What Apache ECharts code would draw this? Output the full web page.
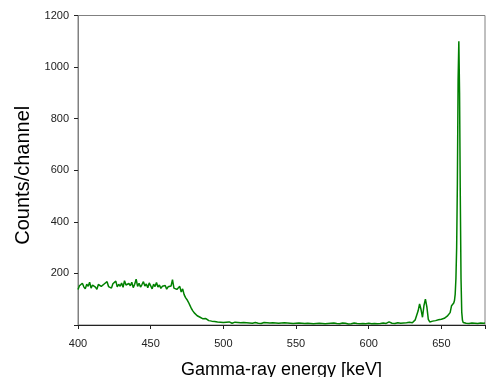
<!DOCTYPE html>
<html>
<head>
<meta charset="utf-8">
<script src="https://cdn.jsdelivr.net/npm/echarts@6/dist/echarts.min.js"></script>
<style>
html,body{margin:0;padding:0;background:#fff;}
#c{width:487px;height:377px;}
</style>
</head>
<body>
<div id="c"></div>
<script>
const energyKeV = [
  400,401,402,403,404,405,406,407,408,409,
  410,411,412,413,414,415,416,417,418,419,
  420,421,422,423,424,425,426,427,428,429,
  430,431,432,433,434,435,436,437,438,439,
  440,441,442,443,444,445,446,447,448,449,
  450,451,452,453,454,455,456,457,458,459,
  460,461,462,463,464,465,466,467,468,469,
  470,471,472,473,474,475,476,477,478,479,
  480,481,482,483,484,485,486,487,488,489,
  490,491,492,493,494,495,496,497,498,499,
  500,501,502,503,504,505,506,507,508,509,
  510,511,512,513,514,515,516,517,518,519,
  520,521,522,523,524,525,526,527,528,529,
  530,531,532,533,534,535,536,537,538,539,
  540,541,542,543,544,545,546,547,548,549,
  550,551,552,553,554,555,556,557,558,559,
  560,561,562,563,564,565,566,567,568,569,
  570,571,572,573,574,575,576,577,578,579,
  580,581,582,583,584,585,586,587,588,589,
  590,591,592,593,594,595,596,597,598,599,
  600,601,602,603,604,605,606,607,608,609,
  610,611,612,613,614,615,616,617,618,619,
  620,621,622,623,624,625,626,627,628,629,
  630,631,632,633,634,635,636,637,638,639,
  640,641,642,643,644,645,646,647,648,649,
  650,651,652,653,654,655,656,657,
  658,658.5,659,659.5,660,660.5,661,661.5,662,662.5,663,663.5,664,664.5,665,665.5,
  666,667,668,669,670,671,672,673,674,675,676,677,678,679,680
];
const countsPerChannel = [
  138,152,145,162,148,140,158,150,166,143,
  155,161,147,138,157,164,150,145,159,152,
  168,149,156,143,160,153,170,148,158,150,
  163,146,172,155,149,161,152,166,145,158,
  178,150,162,147,157,168,151,159,144,163,
  152,140,158,149,165,147,155,142,150,146,
  153,139,148,144,151,176,143,149,138,145,
  150,128,140,118,106,98,88,76,64,55,
  47,40,36,32,30,27,24,22,25,19,
  17,24,15,17,14,15,12,14,11,12,
  10,9,11,8,12,10,7,9,11,8,
  10,13,9,8,10,7,9,11,8,9,
  7,8,10,14,7,9,6,8,10,7,
  9,6,8,7,9,6,8,10,7,6,
  8,7,9,6,8,5,7,9,6,8,
  7,5,8,6,7,9,6,5,7,8,
  6,7,5,8,6,12,7,5,6,8,
  5,7,6,4,7,6,8,5,6,7,
  5,6,8,5,7,6,4,7,5,6,
  8,5,6,7,5,8,6,11,5,6,
  7,6,5,7,6,8,5,7,6,5,
  8,7,6,9,12,6,7,8,6,7,
  9,8,7,9,8,10,9,8,11,10,
  9,14,20,26,55,82,60,30,75,100,
  70,22,12,13,15,14,17,18,20,19,
  22,24,26,30,34,40,48,75,
  80,85,95,120,180,300,550,950,1100,900,500,180,50,18,10,8,
  13,7,8,6,7,8,6,7,9,6,7,8,6,7,8
];
const xTicks = [400,450,500,550,600,650];
const yTicks = [200,400,600,800,1000,1200];
const xTitle = 'Gamma-ray energy [keV]';
const yTitle = 'Counts/channel';

const seriesData = energyKeV.map((e, i) => [e, countsPerChannel[i]]);

const chart = echarts.init(document.getElementById('c'), null, {renderer: 'canvas'});
const font = '"Liberation Sans", Arial, sans-serif';
chart.setOption({
  animation: false,
  grid: {left: 78, right: 2, top: 15.5, bottom: 52, containLabel: false, outerBoundsMode: 'none',
    show: true, borderColor: '#808080', borderWidth: 1},
  xAxis: {
    type: 'value', min: 400, max: 680, interval: 50,
    name: xTitle, nameLocation: 'middle', nameGap: 36,
    nameTextStyle: {fontFamily: font, fontSize: 18, color: '#000'},
    axisLine: {show: true, lineStyle: {color: '#222', width: 1}},
    axisTick: {show: true, inside: false, length: 4, lineStyle: {color: '#222'}},
    axisLabel: {fontFamily: font, fontSize: 11, color: '#222', margin: 13,
      formatter: v => xTicks.includes(v) ? String(v) : ''},
    splitLine: {show: false}
  },
  yAxis: {
    type: 'value', min: 0, max: 1200, interval: 200,
    name: yTitle, nameLocation: 'middle', nameGap: 40,
    nameTextStyle: {fontFamily: font, fontSize: 20, color: '#000', padding: [0, 10, 0, 0]},
    axisLine: {show: true, lineStyle: {color: '#808080', width: 1}},
    axisTick: {show: true, inside: false, length: 4, lineStyle: {color: '#222'}},
    axisLabel: {fontFamily: font, fontSize: 11, color: '#222', margin: 9,
      formatter: v => yTicks.includes(v) ? String(v) : ''},
    splitLine: {show: false}
  },
  series: [{
    type: 'line', data: seriesData, showSymbol: false, symbol: 'none',
    lineStyle: {color: '#008000', width: 1.5}, itemStyle: {color: '#008000'}
  }]
});
</script>
</body>
</html>
